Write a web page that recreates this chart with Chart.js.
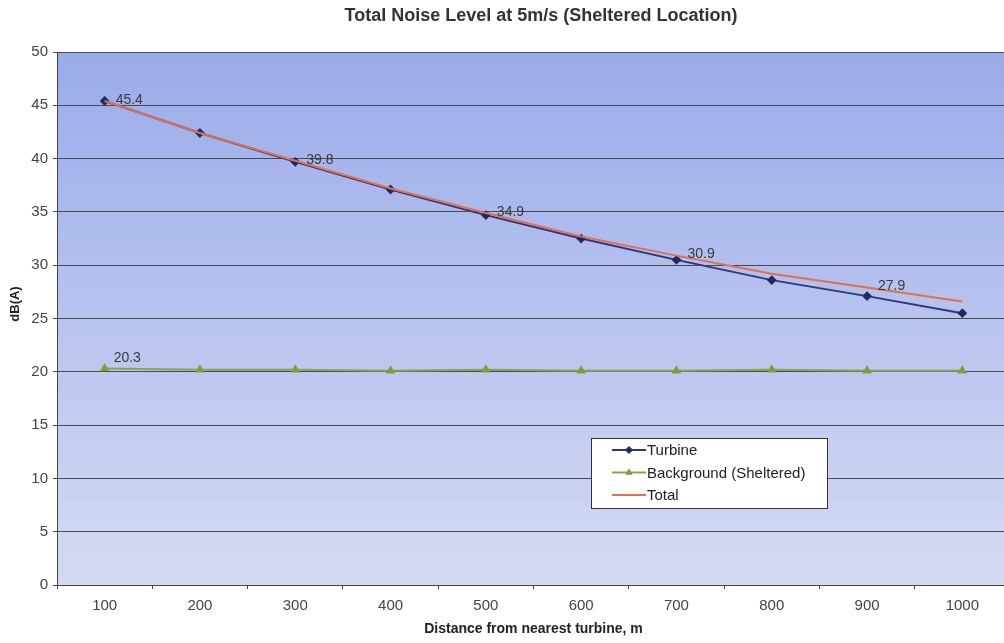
<!DOCTYPE html>
<html>
<head>
<meta charset="utf-8">
<script src="https://cdn.jsdelivr.net/npm/chart.js@4/dist/chart.umd.min.js"></script>
<style>
  html, body { margin: 0; padding: 0; background: #fff; overflow: hidden; }
  #wrap { width: 1016px; height: 643px; }
</style>
</head>
<body>
<div id="wrap"><canvas id="c" width="1016" height="643"></canvas></div>
<script>
// Distance from the nearest turbine (m)
const distances = ['100', '200', '300', '400', '500', '600', '700', '800', '900', '1000'];
// Predicted turbine noise, dB(A)
const turbine = [45.4, 42.4, 39.7, 37.1, 34.7, 32.5, 30.5, 28.6, 27.1, 25.5];
// Measured background noise at the sheltered location, dB(A)
const background = [20.3, 20.2, 20.2, 20.1, 20.2, 20.1, 20.1, 20.2, 20.1, 20.1];
// Combined level, dB(A)
const total = [45.4, 42.4, 39.8, 37.2, 34.9, 32.7, 30.9, 29.2, 27.9, 26.6];
// Which points carry a value label
const totalLabelIdx = [0, 2, 4, 6, 8];
const backgroundLabelIdx = [0];

const FONT = 'Liberation Sans, Arial, sans-serif';
const TITLE = 'Total Noise Level at 5m/s (Sheltered Location)';

// Vertical blue gradient behind the plot
const plotBackground = {
  id: 'plotBackground',
  beforeDraw(chart) {
    const { ctx, chartArea: a } = chart;
    const g = ctx.createLinearGradient(0, a.top, 0, a.bottom);
    g.addColorStop(0, '#9aabea');
    g.addColorStop(0.5, '#b8c3ef');
    g.addColorStop(1, '#d5daf3');
    ctx.save();
    ctx.fillStyle = g;
    ctx.fillRect(a.left, a.top, a.right - a.left, a.bottom - a.top);
    ctx.restore();
  }
};

// Value labels next to selected points
const valueLabels = {
  id: 'valueLabels',
  afterDatasetsDraw(chart) {
    const { ctx } = chart;
    ctx.save();
    ctx.font = '14px ' + FONT;
    ctx.fillStyle = '#3a3a3a';
    ctx.textBaseline = 'middle';
    ctx.textAlign = 'left';
    const draw = (dsIndex, idxList, dx, dy) => {
      const meta = chart.getDatasetMeta(dsIndex);
      const data = chart.data.datasets[dsIndex].data;
      idxList.forEach(i => {
        const p = meta.data[i];
        ctx.fillText(data[i].toFixed(1), p.x + dx, p.y + dy);
      });
    };
    draw(2, totalLabelIdx, 11, -1);
    draw(1, backgroundLabelIdx, 9, -10);
    ctx.restore();
  }
};

// Boxed legend inside the plot area
const boxLegend = {
  id: 'boxLegend',
  afterDraw(chart) {
    const { ctx } = chart;
    const x = chart.scales.x, y = chart.scales.y;
    const left = Math.round(x.left + (x.right - x.left) * 0.56);
    const top = Math.round(y.getPixelForValue(13.8));
    const w = 236, h = 70;
    ctx.save();
    ctx.fillStyle = '#ffffff';
    ctx.fillRect(left, top, w, h);
    ctx.strokeStyle = '#333';
    ctx.lineWidth = 1;
    ctx.strokeRect(left + 0.5, top + 0.5, w, h);
    ctx.font = '15px ' + FONT;
    ctx.textBaseline = 'middle';
    chart.data.datasets.forEach((ds, i) => {
      const cy = top + 12 + i * 22.5;
      const lx = left + 21;
      ctx.strokeStyle = ds.borderColor;
      ctx.lineWidth = 2;
      ctx.beginPath();
      ctx.moveTo(lx, cy);
      ctx.lineTo(lx + 34, cy);
      ctx.stroke();
      if (ds.pointStyle && ds.pointRadius > 0) {
        ctx.fillStyle = ds.pointBackgroundColor;
        ctx.strokeStyle = ds.pointBorderColor;
        ctx.lineWidth = 1;
        Chart.helpers.drawPoint(ctx, {
          pointStyle: ds.pointStyle, radius: ds.pointRadius, rotation: 0, borderWidth: 1
        }, lx + 17, cy);
      }
      ctx.fillStyle = '#222';
      ctx.fillText(ds.label, lx + 35, cy + 1);
    });
    ctx.restore();
  }
};

// Chart title and rotated y-axis title
const titles = {
  id: 'titles',
  afterDraw(chart) {
    const { ctx } = chart;
    ctx.save();
    ctx.font = 'bold 18px ' + FONT;
    ctx.fillStyle = '#333';
    ctx.textAlign = 'center';
    ctx.textBaseline = 'middle';
    ctx.fillText(TITLE, 541, 16);
    ctx.translate(15, 304);
    ctx.rotate(-Math.PI / 2);
    ctx.font = 'bold 13px ' + FONT;
    ctx.fillStyle = '#222';
    ctx.fillText('dB(A)', 0, 0);
    ctx.restore();
  }
};

new Chart(document.getElementById('c'), {
  type: 'line',
  data: {
    labels: distances,
    datasets: [
      {
        label: 'Turbine',
        data: turbine,
        borderColor: '#2c3878',
        backgroundColor: '#1f2a66',
        pointBackgroundColor: '#1f2a66',
        pointBorderColor: '#1f2a66',
        pointStyle: 'rectRot',
        pointRadius: 3.5,
        borderWidth: 2,
        tension: 0,
        order: 2
      },
      {
        label: 'Background (Sheltered)',
        data: background,
        borderColor: '#86a84a',
        backgroundColor: '#7aa03c',
        pointBackgroundColor: '#7aa03c',
        pointBorderColor: '#7aa03c',
        pointStyle: 'triangle',
        pointRadius: 3.5,
        borderWidth: 2,
        tension: 0,
        order: 3
      },
      {
        label: 'Total',
        data: total,
        borderColor: '#e0714c',
        backgroundColor: '#e0714c',
        pointRadius: 0,
        borderWidth: 2,
        tension: 0,
        order: 1
      }
    ]
  },
  options: {
    responsive: false,
    animation: false,
    events: [],
    layout: { padding: { left: 0, right: 4, top: 52, bottom: 0 } },
    plugins: {
      legend: { display: false },
      tooltip: { enabled: false },
      title: { display: false }
    },
    scales: {
      x: {
        offset: true,
        grid: {
          display: true, drawOnChartArea: false, offset: true,
          tickLength: 4, color: '#444'
        },
        border: { display: true, color: '#444', width: 1 },
        ticks: {
          color: '#444', padding: 8,
          font: { family: FONT, size: 15 }
        },
        title: {
          display: true,
          text: 'Distance from nearest turbine, m',
          color: '#222',
          font: { family: FONT, size: 14, weight: 'bold' },
          padding: { top: 0, bottom: 5 }
        },
        afterFit(scale) { scale.height = 58; }
      },
      y: {
        min: 0, max: 50,
        ticks: {
          stepSize: 5, color: '#444', padding: 5,
          font: { family: FONT, size: 15 }
        },
        grid: { color: '#4a4a4a', lineWidth: 1, tickLength: 4 },
        border: { display: true, color: '#444', width: 1 },
        afterFit(scale) { scale.width = 57; }
      }
    }
  },
  plugins: [plotBackground, valueLabels, boxLegend, titles]
});
</script>
</body>
</html>
